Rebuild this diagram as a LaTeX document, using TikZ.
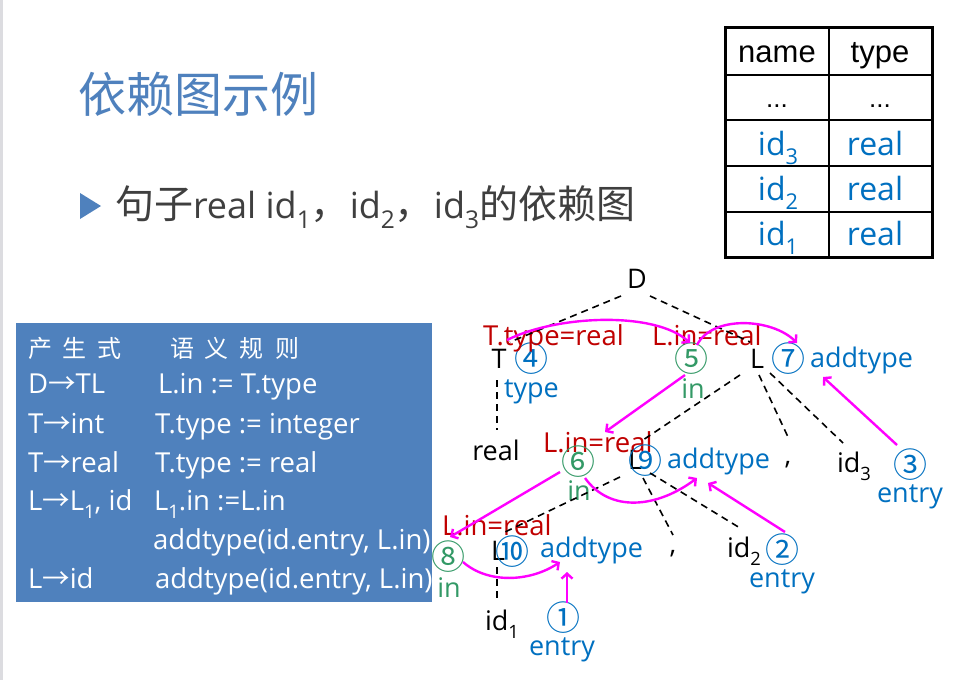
\documentclass[tikz,border=0pt]{standalone}
\usepackage{fontspec}
\setmainfont{Open Sans}
\newfontfamily\cjk{Noto Sans CJK SC}
\newfontfamily\arialf{Liberation Sans}
\usetikzlibrary{arrows.meta}
\definecolor{tblue}{HTML}{0070C0}
\definecolor{tgreen}{HTML}{339966}
\definecolor{tred}{HTML}{C00000}
\definecolor{boxblue}{HTML}{4F81BD}
\definecolor{titleblue}{HTML}{4F81BD}
\definecolor{mag}{HTML}{FF00FF}
\definecolor{subgray}{HTML}{3F3F3F}
\definecolor{bargray}{HTML}{DCDCE0}
\newcommand\sbs[1]{\raisebox{-.3em}{\scalebox{.68}{#1}}}
\newcommand\fs[1]{\fontsize{#1}{#1}\selectfont}
\begin{document}
\begin{tikzpicture}[x=1pt,y=-1pt,
  every node/.style={inner sep=0pt, outer sep=0pt},
  lbl/.style={font=\fs{27}, anchor=base},
  blk/.style={lbl, text=black},
  blu/.style={lbl, text=tblue},
  grn/.style={lbl, text=tgreen},
  redlbl/.style={font=\fs{27.5}, text=tred, anchor=base west},
  circ/.style={font=\cjk\fs{34}, anchor=center},
  tree/.style={draw=black, line width=1.6pt, dash pattern=on 7pt off 5pt},
  dep/.style={draw=mag, line width=2.4pt, -{Straight Barb[length=5pt,width=11pt]}},
  wtxt/.style={font=\fs{27.5}, text=white, anchor=base west},
  cell/.style={font=\fs{32}, text=tblue, anchor=base},
]
\useasboundingbox (0,0) rectangle (960,680);
\fill[white] (0,0) rectangle (960,680);
\fill[bargray] (0,0) rectangle (3,680);

% title
\node[anchor=west, font=\cjk\fs{48}, text=titleblue] (title) at (78,94) {依赖图示例};
\fill[titleblue] (80,193) -- (101,206) -- (80,219) -- cycle;
\node[anchor=base west, font=\fs{36}, text=subgray] (subt) at (115,218)
  {{\cjk\fs{39}句子}real id\sbs{1}{\cjk\fs{39}，}id\sbs{2}{\cjk\fs{39}，}id\sbs{3}{\cjk\fs{39}的依赖图}};

% symbol table
\draw[line width=1.5pt] (829,27) -- (829,257);
\foreach \yy in {75,120,166,212} \draw[line width=1.5pt] (725,\yy) -- (932,\yy);
\draw[line width=3pt] (725,27) rectangle (932,257);
\node[anchor=base, font=\arialf\fs{31}] (hname) at (777,62) {name};
\node[anchor=base, font=\arialf\fs{31}] (htype) at (880,62) {type};
\node[anchor=base, font=\arialf\fs{26}] (dname) at (777,107) {...};
\node[anchor=base, font=\arialf\fs{26}] (dtype) at (880,107) {...};
\node[cell] (t3) at (778,155) {id\sbs{3}};
\node[cell] (r3) at (875,155) {real};
\node[cell] (t2) at (778,200) {id\sbs{2}};
\node[cell] (r2) at (875,200) {real};
\node[cell] (t1) at (778,245) {id\sbs{1}};
\node[cell] (r1) at (875,245) {real};

% rules box
\fill[boxblue] (16,323) rectangle (432,602);
\node[font=\cjk\fs{24}, text=white, anchor=west] (h1) at (28,348) {产\hspace{11pt}生\hspace{11pt}式};
\node[font=\cjk\fs{24}, text=white, anchor=west] (h2) at (170,348) {语\hspace{11pt}义\hspace{11pt}规\hspace{11pt}则};
\node[wtxt] (p1) at (28,393) {D{\cjk →}TL};
\node[wtxt] (s1) at (158,393) {L.in := T.type};
\node[wtxt] (p2) at (28,433) {T{\cjk →}int};
\node[wtxt] (s2) at (155,433) {T.type := integer};
\node[wtxt] (p3) at (28,472) {T{\cjk →}real};
\node[wtxt] (s3) at (155,472) {T.type := real};
\node[wtxt] (p4) at (28,510) {L{\cjk →}L\sbs{1}, id};
\node[wtxt] (s4) at (154,510) {L\sbs{1}.in :=L.in};
\node[wtxt] (s5) at (153,549) {addtype(id.entry, L.in)};
\node[wtxt] (p6) at (28,588) {L{\cjk →}id};
\node[wtxt] (s6) at (155,588) {addtype(id.entry, L.in)};

% tree nodes
\node[blk] (D) at (637,288) {D};
\node[blk] (T) at (499,368) {T};
\node[circ, text=tblue] (n4) at (531,359) {④};
\node[blu, anchor=base west] (typeT) at (504,397) {type};
\node[redlbl] (lab1) at (483,345) {T.type=real};
\node[redlbl] (lab2) at (652,345) {L.in=real};
\node[circ, text=tgreen] (n5) at (691,359) {⑤};
\node[grn] (in5) at (693,398) {in};
\node[blk] (L7) at (757,368) {L};
\node[circ, text=tblue] (n7) at (788,359) {⑦};
\node[blu, anchor=base west] (add7) at (810,367) {addtype};
\node[blk] (real) at (496,460) {real};
\node[redlbl] (lab3) at (543,452) {L.in=real};
\node[circ, text=tgreen] (n6) at (578,462) {⑥};
\node[grn] (in6) at (579,500) {in};
\node[blk] (L9) at (635,469) {L};
\node[circ, text=tblue] (n9) at (645,461) {⑨};
\node[blu, anchor=base west] (add9) at (667,468) {addtype};
\node[blk] (c9) at (788,464) {,};
\node[blk, anchor=base west] (id3) at (837,472) {id\sbs{3}};
\node[circ, text=tblue] (n3) at (910,465) {③};
\node[blu] (ent3) at (910,502) {entry};
\node[redlbl] (lab4) at (442,535) {L.in=real};
\node[circ, text=tgreen] (n8) at (448,557) {⑧};
\node[grn] (in8) at (449,597) {in};
\node[blk] (L10) at (498,560) {L};
\node[circ, text=tblue] (n10) at (512,552) {⑩};
\node[blu, anchor=base west] (add10) at (540,557) {addtype};
\node[blk] (c10) at (673,553) {,};
\node[blk, anchor=base west] (id2) at (727,557) {id\sbs{2}};
\node[circ, text=tblue] (n2) at (782,550) {②};
\node[blu] (ent2) at (782,587) {entry};
\node[blk, anchor=base west] (id1) at (485,630) {id\sbs{1}};
\node[circ, text=tblue] (n1) at (563,618) {①};
\node[blu] (ent1) at (562,655) {entry};

% tree edges
\draw[tree] ([shift={(-16,8)}]D.base) -- ([shift={(11,-26)}]T.base);
\draw[tree] ([shift={(13,8)}]D.base) -- ([shift={(-7,-26)}]L7.base);
\draw[tree] ([shift={(-2,12)}]T.base) -- ([shift={(1,-30)}]real.base);
\draw[tree] ([shift={(-17,7)}]L7.base) -- ([shift={(8,-29)}]L9.base);
\draw[tree] ([shift={(2,7)}]L7.base) -- ([shift={(0,-27)}]c9.base);
\draw[tree] ([shift={(13,5)}]L7.base) -- ([shift={(6,-29)}]id3.base west);
\draw[tree] ([shift={(-15,8)}]L9.base) -- ([shift={(7,-28)}]L10.base);
\draw[tree] ([shift={(8,9)}]L9.base) -- ([shift={(0,-18)}]c10.base);
\draw[tree] ([shift={(15,4)}]L9.base) -- ([shift={(13,-29)}]id2.base west);
\draw[tree] ([shift={(-1,7)}]L10.base) -- ([shift={(12,-32)}]id1.base west);

% dependency arrows
\draw[dep] ([shift={(-24,-19)}]n4.center) .. controls +(50,-25) and +(-35,-32) .. ([shift={(-1,-16)}]n5.center);
\draw[dep] ([shift={(6,-14)}]n5.center) .. controls +(15,-30) and +(-25,-25) .. ([shift={(9,-16)}]n7.center);
\draw[dep] ([shift={(-13,-20)}]n3.center) -- ([shift={(13,10)}]add7.base west);
\draw[dep] ([shift={(-6,16)}]n5.center) -- ([shift={(62,-20)}]lab3.base west);
\draw[dep] ([shift={(-18,10)}]n6.center) -- ([shift={(2,-20)}]n8.center);
\draw[dep] ([shift={(7,16)}]n6.center) .. controls +(25,35) and +(-40,30) .. ([shift={(30,10)}]add9.base west);
\draw[dep] ([shift={(3,-18)}]n2.center) -- ([shift={(41,15)}]add9.base west);
\draw[dep] ([shift={(15,5)}]n8.center) .. controls +(25,22) and +(-30,20) .. ([shift={(20,5)}]add10.base west);
\draw[dep] ([shift={(4,-15)}]n1.center) -- ([shift={(27,15)}]add10.base west);
\end{tikzpicture}
\end{document}
